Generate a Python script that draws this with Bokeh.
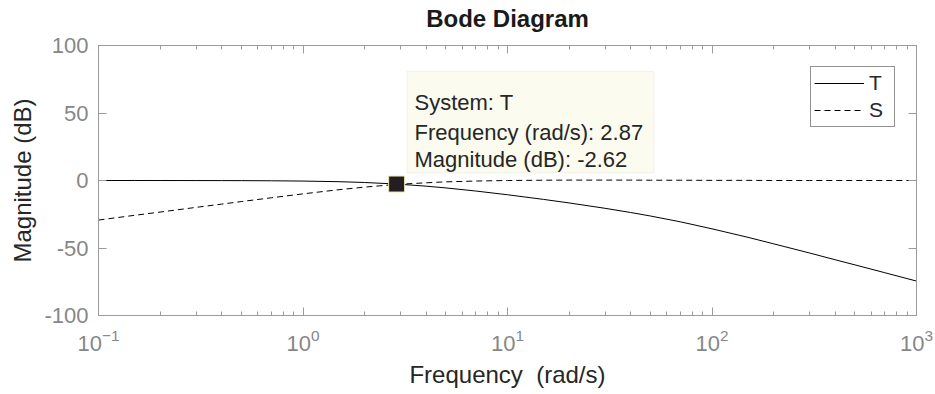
from bokeh.plotting import figure
from bokeh.models import (FixedTicker, LinearAxis, LogAxis, Label, BoxAnnotation,
                          Legend, LegendItem, Range1d, CustomJSTickFormatter)
from bokeh.embed import file_html
from bokeh.resources import INLINE

# Closed-loop magnitude responses (dB) sampled along the frequency axis (rad/s)
freq = [0.1, 0.15, 0.2, 0.3, 0.4, 0.5, 0.7, 1, 1.5, 2, 2.87, 4, 5, 7, 10, 15, 20,
        30, 40, 50, 70, 100, 150, 200, 300, 400, 500, 700, 1000]
mag_T = [0.0, -0.01, -0.02, -0.04, -0.07, -0.11, -0.21, -0.42, -0.89, -1.47, -2.62,
         -4.19, -5.5, -7.8, -10.56, -14.0, -16.6, -20.6, -23.7, -26.3, -30.6, -35.8,
         -42.1, -46.9, -53.7, -58.7, -62.5, -68.3, -74.5]
mag_S = [-29.3, -25.8, -23.4, -19.9, -17.5, -15.6, -12.8, -9.9, -6.8, -4.9, -2.9,
         -1.7, -1.0, -0.4, 0.0, 0.2, 0.3, 0.3, 0.3, 0.2, 0.2, 0.1, 0.1, 0.0, 0.0,
         0.0, 0.0, 0.0, 0.0]

# Data tip on T
tip_system = "T"
tip_freq = 2.87
tip_mag = -2.62

# Axis ticks
x_decades = [0.1, 1, 10, 100, 1000]
y_ticks = [-100, -50, 0, 50, 100]
y_tick_labels = ["-100", "-50", "0", "50", "100"]

W, H = 935, 394
LEFT, RIGHT, TOP, BOTTOM = 98, 916, 45, 315
FONT = "Liberation Sans"
DARK = "#262626"
GREY_TXT = "#878787"
GREY_AX = "#9b9b9b"


def fx(px):
    """Pixel column -> frequency on the log axis."""
    return 10 ** (-1 + 4 * (px - LEFT) / (RIGHT - LEFT))


def fy(py):
    """Pixel row -> magnitude on the linear axis."""
    return 100 - 200 * (py - TOP) / (BOTTOM - TOP)


p = figure(width=W, height=H, x_axis_type="log",
           x_range=Range1d(0.1, 1000), y_range=Range1d(-100, 100),
           output_backend="svg", toolbar_location=None,
           min_border_left=LEFT, min_border_right=W - RIGHT,
           min_border_top=TOP, min_border_bottom=H - BOTTOM)
p.xgrid.visible = False
p.ygrid.visible = False
p.outline_line_color = GREY_AX
p.background_fill_color = "white"
p.border_fill_color = "white"

minor = [k * 10 ** n for n in range(-1, 3) for k in range(2, 10)]
xticker = FixedTicker(ticks=x_decades, minor_ticks=minor)
yticker = FixedTicker(ticks=y_ticks, minor_ticks=[])
blank = CustomJSTickFormatter(code="return ''")

bottom_axis = p.below[0]
left_axis = p.left[0]

# Mirror axes on top and right carry ticks only; the top one holds the title
top_axis = LogAxis(ticker=xticker, formatter=blank,
                   major_label_text_font_size="0px", major_label_standoff=0,
                   axis_label="Bode Diagram", axis_label_standoff=14,
                   axis_label_text_font=FONT, axis_label_text_font_size="24px",
                   axis_label_text_font_style="bold", axis_label_text_color="#1a1a1a")
right_axis = LinearAxis(ticker=yticker, formatter=blank,
                        major_label_text_font_size="0px", major_label_standoff=0)
p.add_layout(top_axis, "above")
p.add_layout(right_axis, "right")

bottom_axis.ticker = xticker
left_axis.ticker = yticker
left_axis.major_label_overrides = dict(zip(y_ticks, y_tick_labels))

for ax in [bottom_axis, left_axis, top_axis, right_axis]:
    ax.axis_line_color = GREY_AX
    ax.major_tick_line_color = GREY_AX
    ax.minor_tick_line_color = GREY_AX
    ax.major_tick_in = 8
    ax.major_tick_out = 0
    ax.minor_tick_in = 4
    ax.minor_tick_out = 0

for ax in [bottom_axis, left_axis]:
    ax.major_label_text_font = FONT
    ax.major_label_text_font_size = "22px"
    ax.major_label_text_color = GREY_TXT
    ax.axis_label_text_font = FONT
    ax.axis_label_text_font_size = "24px"
    ax.axis_label_text_font_style = "normal"
    ax.axis_label_text_color = DARK

left_axis.major_label_standoff = 10
left_axis.axis_label = "Magnitude (dB)"
left_axis.axis_label_standoff = 5

bottom_axis.major_label_standoff = 13
bottom_axis.axis_label = "Frequency\u00a0 (rad/s)"
bottom_axis.axis_label_standoff = 7

# Curves
r_T = p.line(freq, mag_T, line_color="black", line_width=1)
r_S = p.line(freq, mag_S, line_color="black", line_width=1, line_dash="6 4")

# Data tip box, marker and text
p.add_layout(BoxAnnotation(left=fx(406.7), right=fx(653.3), top=fy(71), bottom=fy(172.3),
                           fill_color="#fbfbef", fill_alpha=1.0,
                           line_color="#dedccb", line_width=1))
p.scatter([tip_freq], [tip_mag], marker="square", size=16,
          fill_color="#231f20", line_color="#efe9b8", line_width=1)
tip_lines = [f"System: {tip_system}",
             f"Frequency (rad/s): {tip_freq:.2f}",
             f"Magnitude (dB): {tip_mag:.2f}"]
for txt, base in zip(tip_lines, [101.7, 131.5, 159.3]):
    p.add_layout(Label(x=fx(414), y=fy(base), text=txt, text_font=FONT,
                       text_font_size="22px", text_color=DARK,
                       text_align="left", text_baseline="alphabetic"))

# Legend
legend = Legend(items=[LegendItem(label="T", renderers=[r_T]),
                       LegendItem(label="S", renderers=[r_S])],
                location=(810 - LEFT, BOTTOM - 126.7))
legend.border_line_color = DARK
legend.border_line_width = 1
legend.background_fill_color = "white"
legend.background_fill_alpha = 1.0
legend.label_text_font = FONT
legend.label_text_font_size = "21px"
legend.label_text_color = DARK
legend.glyph_width = 50
legend.glyph_height = 26
legend.label_height = 26
legend.label_width = 22
legend.spacing = 1
legend.padding = 3
legend.margin = 0
legend.label_standoff = 5
p.add_layout(legend)

open("out.html", "w").write(file_html(p, INLINE))
